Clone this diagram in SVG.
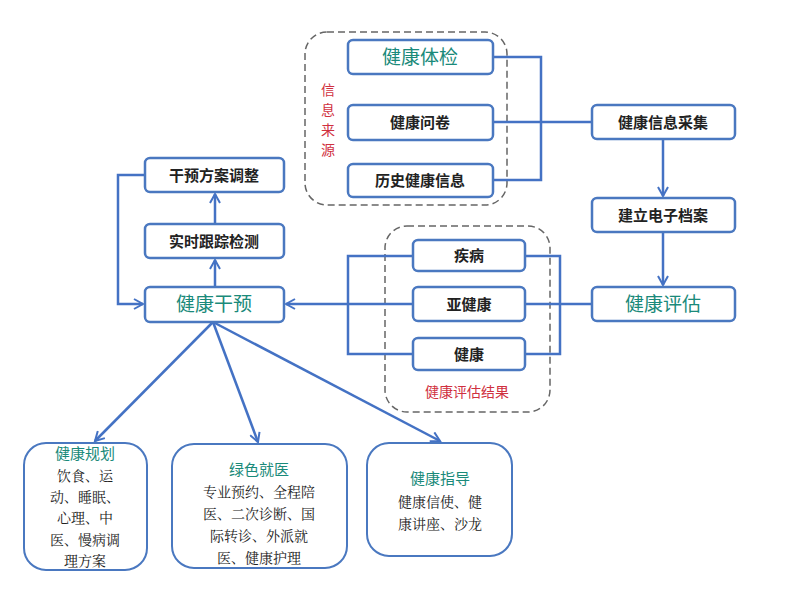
<svg xmlns="http://www.w3.org/2000/svg" width="800" height="590" viewBox="0 0 800 590">
<defs>
<marker id="ar" markerWidth="12" markerHeight="12" refX="10" refY="6" orient="auto" markerUnits="userSpaceOnUse"><path d="M1,1 L10,6 L1,11" fill="none" stroke="#4472c4" stroke-width="2"/></marker>
</defs>
<style>
.n{fill:#fff;stroke:#4a78c0;stroke-width:2.5}
.b{fill:#fff;stroke:#4a78c0;stroke-width:2}
.d{fill:none;stroke:#666;stroke-width:1.5;stroke-dasharray:7,4}
.c{fill:none;stroke:#4472c4;stroke-width:2.5}
.t{font-family:"Noto Sans CJK SC",sans-serif;font-size:15px;font-weight:bold;fill:#222;text-anchor:middle}
.g{font-family:"Noto Sans CJK SC",sans-serif;font-size:19px;fill:#1a8a7a;text-anchor:middle}
.gs{font-family:"Noto Sans CJK SC",sans-serif;font-size:15px;fill:#1a8a7a;text-anchor:middle}
.r{font-family:"Noto Sans CJK SC",sans-serif;font-size:14px;fill:#d03040;text-anchor:middle}
.s{font-family:"Noto Serif CJK SC","Noto Sans CJK SC",serif;font-size:14px;fill:#222;text-anchor:middle}
</style>
<rect class="d" x="305" y="32" width="202" height="173" rx="22"/>
<rect class="d" x="385" y="226" width="165" height="186" rx="22"/>
<text class="r" x="328" y="95">信</text><text class="r" x="328" y="115">息</text><text class="r" x="328" y="135">来</text><text class="r" x="328" y="155">源</text>
<text class="r" x="467" y="397">健康评估结果</text>
<g id="connectors">
<path class="c" d="M493,57 H541 V180 H493 M493,122 H592"/>
<path class="c" d="M663,139 V196" marker-end="url(#ar)"/>
<path class="c" d="M663,232 V285" marker-end="url(#ar)"/>
<path class="c" d="M413,256 H348 V354 H413 M525,256 H560 V354 H525 M525,304 H592 M413,304 H348"/>
<path class="c" d="M348,304 H286" marker-end="url(#ar)"/>
<path class="c" d="M215,287 V260" marker-end="url(#ar)"/>
<path class="c" d="M215,224 V194" marker-end="url(#ar)"/>
<path class="c" d="M145,175 H118 V304 H143" marker-end="url(#ar)"/>
<path class="c" d="M213,322 L95,441" marker-end="url(#ar)"/>
<path class="c" d="M213,322 L258,442" marker-end="url(#ar)"/>
<path class="c" d="M213,322 L440,441" marker-end="url(#ar)"/>
</g>
<g id="n1"><rect class="n" x="348" y="40" width="145" height="34" rx="5"/><text class="g" x="420" y="64">健康体检</text></g>
<g id="n2"><rect class="n" x="348" y="105" width="145" height="35" rx="5"/><text class="t" x="420" y="128">健康问卷</text></g>
<g id="n3"><rect class="n" x="348" y="164" width="145" height="33" rx="5"/><text class="t" x="420" y="186">历史健康信息</text></g>
<g id="n4"><rect class="n" x="592" y="105" width="143" height="34" rx="5"/><text class="t" x="663" y="128">健康信息采集</text></g>
<g id="n5"><rect class="n" x="592" y="198" width="143" height="34" rx="5"/><text class="t" x="663" y="221">建立电子档案</text></g>
<g id="n6"><rect class="n" x="592" y="287" width="143" height="34" rx="5"/><text class="g" x="663" y="311">健康评估</text></g>
<g id="n7"><rect class="n" x="413" y="240" width="112" height="31" rx="5"/><text class="t" x="469" y="261">疾病</text></g>
<g id="n8"><rect class="n" x="413" y="287" width="112" height="34" rx="5"/><text class="t" x="469" y="310">亚健康</text></g>
<g id="n9"><rect class="n" x="413" y="338" width="112" height="32" rx="5"/><text class="t" x="469" y="360">健康</text></g>
<g id="n10"><rect class="n" x="145" y="287" width="139" height="35" rx="5"/><text class="g" x="214" y="311">健康干预</text></g>
<g id="n11"><rect class="n" x="145" y="224" width="139" height="34" rx="5"/><text class="t" x="214" y="247">实时跟踪检测</text></g>
<g id="n12"><rect class="n" x="145" y="158" width="139" height="34" rx="5"/><text class="t" x="214" y="181">干预方案调整</text></g>
<g id="n13"><rect class="b" x="24" y="443" width="123" height="127" rx="22"/><text class="gs" x="85" y="459">健康规划</text>
<text class="s" x="85" y="481">饮食、运</text><text class="s" x="85" y="502">动、睡眠、</text><text class="s" x="85" y="523">心理、中</text><text class="s" x="85" y="545">医、慢病调</text><text class="s" x="85" y="566">理方案</text></g>
<g id="n14"><rect class="b" x="172" y="444" width="175" height="124" rx="22"/><text class="gs" x="259" y="475">绿色就医</text>
<text class="s" x="259" y="497">专业预约、全程陪</text><text class="s" x="259" y="519">医、二次诊断、国</text><text class="s" x="259" y="541">际转诊、外派就</text><text class="s" x="259" y="563">医、健康护理</text></g>
<g id="n15"><rect class="b" x="367" y="443" width="145" height="113" rx="22"/><text class="gs" x="440" y="484">健康指导</text>
<text class="s" x="440" y="507">健康信使、健</text><text class="s" x="440" y="529">康讲座、沙龙</text></g>
</svg>
